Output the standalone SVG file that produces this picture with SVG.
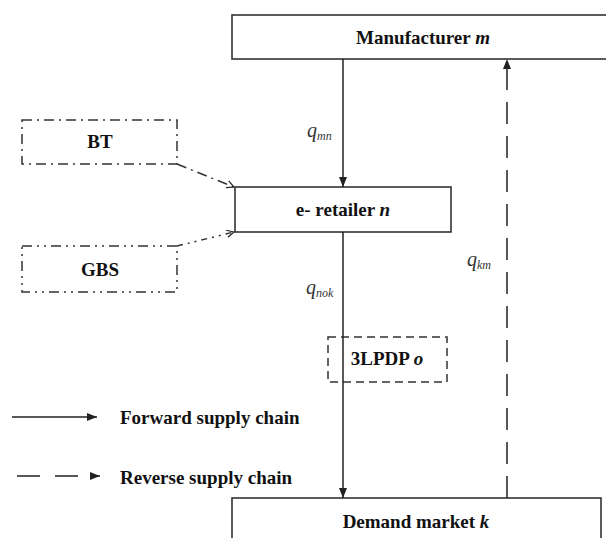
<svg xmlns="http://www.w3.org/2000/svg" width="606" height="538" viewBox="0 0 606 538">
<defs>
<marker id="tri" viewBox="0 0 10 10" refX="10" refY="5" markerWidth="10" markerHeight="10" markerUnits="userSpaceOnUse" orient="auto">
<path d="M0,1 L10,5 L0,9 Z" fill="#222"/>
</marker>
<marker id="open" viewBox="0 0 10 10" refX="9" refY="5" markerWidth="9" markerHeight="9" markerUnits="userSpaceOnUse" orient="auto">
<path d="M1,1 L9,5 L1,9" fill="none" stroke="#222" stroke-width="1.3"/>
</marker>
<style>
.box{fill:#fff;stroke:#333;stroke-width:1.6}
.dd{fill:none;stroke:#333;stroke-width:1.5;stroke-dasharray:10 5 2 5}
.ddd{fill:none;stroke:#333;stroke-width:1.5;stroke-dasharray:10 5 2 5 2 5}
.dash{fill:none;stroke:#333;stroke-width:1.5;stroke-dasharray:8 5}
.lbl{font-family:"Liberation Serif",serif;font-weight:bold;font-size:19px;fill:#111;text-anchor:middle}
.q{font-family:"Liberation Serif",serif;font-style:italic;font-size:20px;fill:#333}
.sub{font-size:12px}
.ln{fill:none;stroke:#222;stroke-width:1.5}
</style>
</defs>
<g id="manufacturer">
<rect class="box" x="232" y="15" width="390" height="44"/>
<text class="lbl" x="423" y="44">Manufacturer <tspan font-style="italic">m</tspan></text>
</g>
<g id="bt">
<rect class="dd" x="22" y="120" width="155" height="44"/>
<text class="lbl" x="100" y="148">BT</text>
</g>
<g id="gbs">
<rect class="ddd" x="22" y="246" width="155" height="46"/>
<text class="lbl" x="100" y="276">GBS</text>
</g>
<g id="retailer">
<rect class="box" x="235" y="187" width="216" height="45"/>
<text class="lbl" x="343" y="216">e- retailer <tspan font-style="italic">n</tspan></text>
</g>
<g id="tlpdp">
<rect class="dash" x="328" y="337" width="119" height="45"/>
<text class="lbl" x="387" y="365">3LPDP <tspan font-style="italic">o</tspan></text>
</g>
<g id="demand">
<rect class="box" x="232" y="498" width="369" height="50"/>
<text class="lbl" x="416" y="528">Demand market <tspan font-style="italic">k</tspan></text>
</g>
<g id="connectors">
<line class="ln" x1="343" y1="59" x2="343" y2="187" marker-end="url(#tri)"/>
<line class="ln" x1="343" y1="232" x2="343" y2="498" marker-end="url(#tri)"/>
<line class="ln" x1="507" y1="498" x2="507" y2="59" stroke-dasharray="22 12" marker-end="url(#tri)"/>
<path class="dd" d="M177,164 L234,187" marker-end="url(#open)" style="stroke-dasharray:10 5 2 5"/>
<path class="ddd" d="M177,246 L234,232" marker-end="url(#open)" style="stroke-dasharray:6 5 2 5 2 5"/>
<text class="q" x="307" y="137">q<tspan class="sub" dy="3">mn</tspan></text>
<text class="q" x="306" y="294">q<tspan class="sub" dy="3">nok</tspan></text>
<text class="q" x="467" y="266">q<tspan class="sub" dy="3">km</tspan></text>
</g>
<g id="legend">
<line class="ln" x1="12" y1="417" x2="97" y2="417" marker-end="url(#tri)"/>
<text class="lbl" x="120" y="424" style="text-anchor:start">Forward supply chain</text>
<line class="ln" x1="17" y1="476" x2="100" y2="476" stroke-dasharray="23 15" marker-end="url(#tri)"/>
<text class="lbl" x="120" y="484" style="text-anchor:start">Reverse supply chain</text>
</g>
</svg>
